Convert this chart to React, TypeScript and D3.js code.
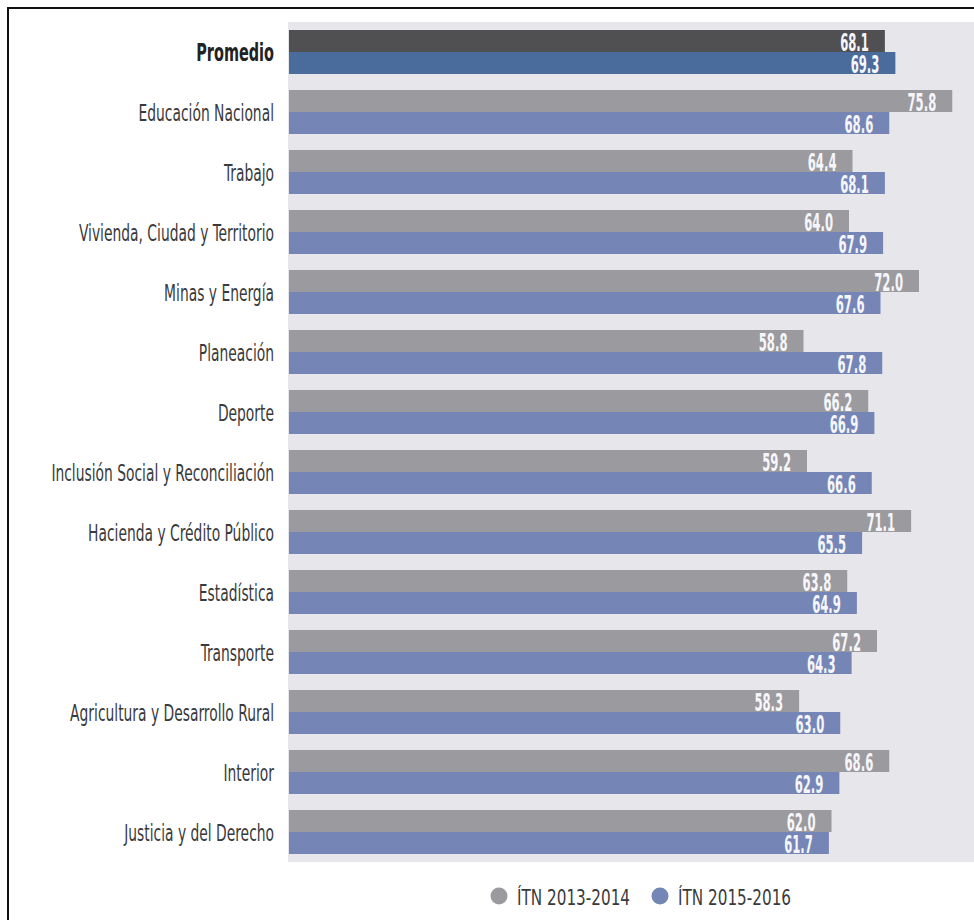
import React from "react";
import * as d3 from "d3";

const categories = [
  "Promedio",
  "Educación Nacional",
  "Trabajo",
  "Vivienda, Ciudad y Territorio",
  "Minas y Energía",
  "Planeación",
  "Deporte",
  "Inclusión Social y Reconciliación",
  "Hacienda y Crédito Público",
  "Estadística",
  "Transporte",
  "Agricultura y Desarrollo Rural",
  "Interior",
  "Justicia y del Derecho",
];
const itn2013 = [68.1, 75.8, 64.4, 64.0, 72.0, 58.8, 66.2, 59.2, 71.1, 63.8, 67.2, 58.3, 68.6, 62.0];
const itn2015 = [69.3, 68.6, 68.1, 67.9, 67.6, 67.8, 66.9, 66.6, 65.5, 64.9, 64.3, 63.0, 62.9, 61.7];
const seriesNames = ["ÍTN 2013-2014", "ÍTN 2015-2016"];

const W = 974;
const H = 920;
const FONT = "'Liberation Sans Narrow', 'Arial Narrow', 'DejaVu Sans Condensed', sans-serif";
const GRAY = "#9b9a9e";
const BLUE = "#7586b6";
const GRAY_AVG = "#505053";
const BLUE_AVG = "#4a6c9c";
const BG = "#e7e6eb";

export default function App() {
  const x = d3.scaleLinear().domain([0, 80]).range([289, 289 + 700]);
  const y = d3
    .scaleBand<string>()
    .domain(categories)
    .range([22, 862])
    .paddingInner(16 / 60)
    .paddingOuter(8 / 60);
  const bw = y.bandwidth();
  const half = bw / 2;
  const fmt = d3.format(".1f");
  const SX_LABEL = 0.67;
  const SX_VAL = 0.54;

  return (
    <svg
      width={W}
      height={H}
      style={{ position: "absolute", left: 0, top: 0, background: "#fff" }}
    >
      <rect x={0} y={0} width={W} height={H} fill="#fff" />
      {/* frame */}
      <line x1={7} y1={8} x2={W} y2={8} stroke="#111" strokeWidth={2} />
      <line x1={8} y1={7} x2={8} y2={H} stroke="#111" strokeWidth={2} />
      {/* plot background */}
      <rect x={288} y={22} width={W - 288} height={862 - 22} fill={BG} />
      {categories.map((c, i) => {
        const y0 = y(c)!;
        const isAvg = i === 0;
        const g = itn2013[i];
        const b = itn2015[i];
        return (
          <g key={c}>
            <rect x={x(0)} y={y0} width={x(g) - x(0)} height={half} fill={isAvg ? GRAY_AVG : GRAY} />
            <rect x={x(0)} y={y0 + half} width={x(b) - x(0)} height={half} fill={isAvg ? BLUE_AVG : BLUE} />
            <text
              transform={`translate(${x(g) - 16},${y0 + half - 1.5}) scale(${SX_VAL},1)`}
              textAnchor="end"
              fontFamily={FONT}
              fontWeight="bold"
              fontSize={24}
              fill="#f6f6fa"
            >
              {fmt(g)}
            </text>
            <text
              transform={`translate(${x(b) - 16},${y0 + bw - 1.5}) scale(${SX_VAL},1)`}
              textAnchor="end"
              fontFamily={FONT}
              fontWeight="bold"
              fontSize={24}
              fill="#f6f6fa"
            >
              {fmt(b)}
            </text>
            <text
              transform={`translate(274,${y0 + half + 9}) scale(${SX_LABEL},1)`}
              textAnchor="end"
              fontFamily={FONT}
              fontWeight={isAvg ? "bold" : "normal"}
              fontSize={isAvg ? 24 : 23}
              fill={isAvg ? "#222" : "#3a3a3c"}
            >
              {c}
            </text>
          </g>
        );
      })}
      {/* legend */}
      {seriesNames.map((s, i) => {
        const cx = i === 0 ? 499 : 660;
        return (
          <g key={s}>
            <circle cx={cx} cy={896} r={8.5} fill={i === 0 ? GRAY : BLUE} />
            <text
              transform={`translate(${cx + 18},905) scale(0.77,1)`}
              fontFamily={FONT}
              fontSize={22}
              fill="#3a3a3c"
            >
              {s}
            </text>
          </g>
        );
      })}
    </svg>
  );
}
